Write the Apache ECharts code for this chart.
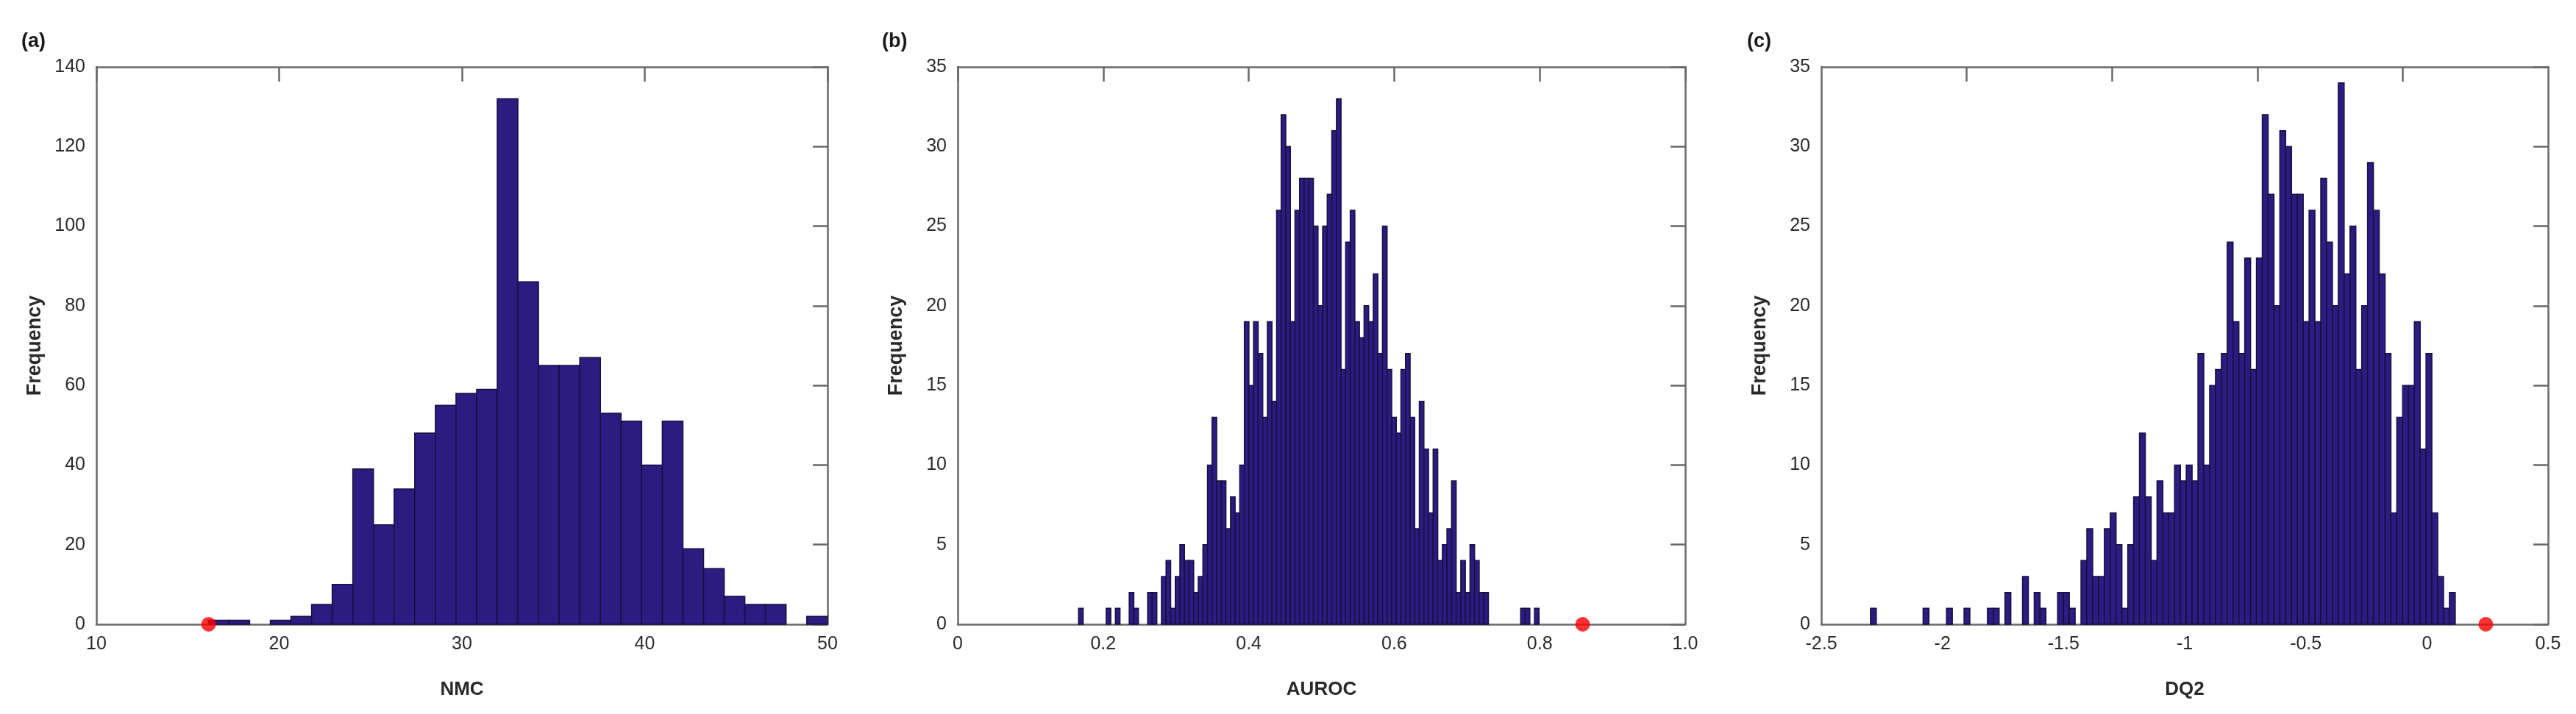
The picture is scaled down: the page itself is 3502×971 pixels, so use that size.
<!DOCTYPE html>
<html>
<head>
<meta charset="utf-8">
<script src="https://cdn.jsdelivr.net/npm/echarts@6/dist/echarts.min.js"></script>
<style>
html,body{margin:0;padding:0;background:#fff;}
#chart{width:3502px;height:971px;}
</style>
</head>
<body>
<div id="chart"></div>
<script>
// ---------- data ----------
// Panel (a): NMC histogram, 30 equal bins
const binStartA = 16.13;
const binWidthA = 1.1287;
const countsA = [1,1,0,1,2,5,10,39,25,34,48,55,58,59,132,86,65,65,67,53,51,40,51,19,14,7,5,5,0,2];
const observedA = 16.14;

// Panel (b): AUROC histogram, 100 equal bins
const binStartB = 0.1661;
const binWidthB = 0.00633;
const countsB = [
  1,0,0,0,0,0,1,0,1,0, 0,2,1,0,0,2,2,0,3,4,
  1,3,5,4,4,2,3,5,10,13, 9,9,6,8,7,10,19,15,19,17,
  13,19,14,26,32,30,19,26,28,28, 28,25,20,25,27,31,33,16,24,26,
  19,18,20,19,22,17,25,16,13,12, 16,17,13,6,14,11,7,11,4,5,
  6,9,2,4,2,5,4,2,2,0, 0,0,0,0,0,0,1,1,0,1
];
const observedB = 0.859;

// Panel (c): DQ2 histogram, 100 equal bins
const binStartC = -2.297;
const binWidthC = 0.02414;
const countsC = [
  1,0,0,0,0,0,0,0,0,1, 0,0,0,1,0,0,1,0,0,0,
  1,1,0,2,0,0,3,0,2,1, 0,0,2,2,1,0,4,6,3,3,
  6,7,5,1,5,8,12,8,4,9, 7,7,10,9,10,9,17,10,15,16,
  17,24,19,17,23,16,23,32,27,20, 31,30,27,27,19,26,19,28,24,20,
  34,22,25,16,20,29,26,22,17,7, 13,15,15,19,11,17,7,3,1,2
];
const observedC = 0.243;

// Tick labels
const xLabelsA = ['10','20','30','40','50'];
const yLabelsA = ['0','20','40','60','80','100','120','140'];
const xLabelsB = ['0','0.2','0.4','0.6','0.8','1.0'];
const yLabelsB = ['0','5','10','15','20','25','30','35'];
const xLabelsC = ['-2.5','-2','-1.5','-1','-0.5','0','0.5'];
const yLabelsC = ['0','5','10','15','20','25','30','35'];
const topTicksC = [-1.9, -1.3, -0.7, -0.1];

const panelLetters = ['(a)','(b)','(c)'];
const xTitles = ['NMC','AUROC','DQ2'];
const yTitle = 'Frequency';

// ---------- styling ----------
const FONT = '"Liberation Sans", Arial, sans-serif';
const BAR = '#2c1b80';
const EDGE = '#17103f';
const AXIS = '#6a6a6a';
const TXT = '#2a2a2a';

function toBins(start, width, counts) {
  return counts.map((c, i) => [start + i * width, start + (i + 1) * width, c]);
}

const panels = [
  {grid:{left:131, top:91, width:994, height:758},
   xmin:10, xmax:50, xint:10, ymax:140, yint:20,
   xLabels:xLabelsA, yLabels:yLabelsA,
   bins:toBins(binStartA, binWidthA, countsA), obs:observedA, letterX:24},
  {grid:{left:1302, top:91, width:989, height:758},
   xmin:0, xmax:1, xint:0.2, ymax:35, yint:5,
   xLabels:xLabelsB, yLabels:yLabelsB,
   bins:toBins(binStartB, binWidthB, countsB), obs:observedB, letterX:1194},
  {grid:{left:2476, top:91, width:988, height:758},
   xmin:-2.5, xmax:0.5, xint:0.5, ymax:35, yint:5,
   xLabels:xLabelsC, yLabels:yLabelsC,
   bins:toBins(binStartC, binWidthC, countsC), obs:observedC, letterX:2370,
   topTicks:topTicksC}
];

function renderHist(params, api) {
  const h = api.value(2);
  if (!h) return null;
  const p0 = api.coord([api.value(0), 0]);
  const p1 = api.coord([api.value(1), h]);
  return {
    type:'rect',
    shape:{x:p0[0], y:p1[1], width:p1[0]-p0[0], height:p0[1]-p1[1]},
    style:{fill:BAR, stroke:EDGE, lineWidth:1.5}
  };
}

const option = {
  backgroundColor:'#ffffff',
  animation:false,
  title:[], grid:[], xAxis:[], yAxis:[], series:[]
};

panels.forEach((p, k) => {
  option.title.push({
    text:panelLetters[k], left:p.letterX, top:38,
    textStyle:{fontFamily:FONT, fontSize:27, fontWeight:'bold', color:'#1a1a1a'}
  });
  option.grid.push(p.grid);
  const axLine = {show:true, onZero:false, lineStyle:{color:AXIS, width:2.5}};
  // bottom x axis with labels
  option.xAxis.push({
    type:'value', gridIndex:k, position:'bottom', min:p.xmin, max:p.xmax, interval:p.xint,
    axisLine:axLine, axisTick:{show:false}, splitLine:{show:false},
    axisLabel:{fontFamily:FONT, fontSize:25, color:TXT, margin:15,
      formatter:(v, i) => p.xLabels[i]},
    name:xTitles[k], nameLocation:'middle', nameGap:76,
    nameTextStyle:{fontFamily:FONT, fontSize:26, fontWeight:'bold', color:TXT}
  });
  // top x axis: ticks only
  const topTick = {show:true, inside:true, length:20, lineStyle:{color:AXIS, width:2.5}};
  if (p.topTicks) topTick.customValues = p.topTicks;
  option.xAxis.push({
    type:'value', gridIndex:k, position:'top', min:p.xmin, max:p.xmax, interval:p.xint,
    axisLine:axLine, axisTick:topTick, axisLabel:{show:false}, splitLine:{show:false}
  });
  // left y axis with labels
  option.yAxis.push({
    type:'value', gridIndex:k, position:'left', min:0, max:p.ymax, interval:p.yint,
    axisLine:axLine, axisTick:{show:false}, splitLine:{show:false},
    axisLabel:{fontFamily:FONT, fontSize:25, color:TXT, margin:15,
      formatter:(v, i) => p.yLabels[i]},
    name:yTitle, nameLocation:'middle', nameGap:70, nameRotate:90,
    nameTextStyle:{fontFamily:FONT, fontSize:27, fontWeight:'bold', color:TXT}
  });
  // right y axis: ticks only
  option.yAxis.push({
    type:'value', gridIndex:k, position:'right', min:0, max:p.ymax, interval:p.yint,
    axisLine:axLine, axisTick:{show:true, inside:true, length:20, lineStyle:{color:AXIS, width:2.5}},
    axisLabel:{show:false}, splitLine:{show:false}
  });
  option.series.push({
    type:'custom', xAxisIndex:2*k, yAxisIndex:2*k,
    renderItem:renderHist, data:p.bins, clip:false, z:2
  });
  option.series.push({
    type:'scatter', xAxisIndex:2*k, yAxisIndex:2*k,
    data:[[p.obs, 0]], symbol:'circle', symbolSize:20,
    itemStyle:{color:'#ff0000'}, clip:false, z:10
  });
});

const chart = echarts.init(document.getElementById('chart'), null, {renderer:'canvas'});
chart.setOption(option);
</script>
</body>
</html>
